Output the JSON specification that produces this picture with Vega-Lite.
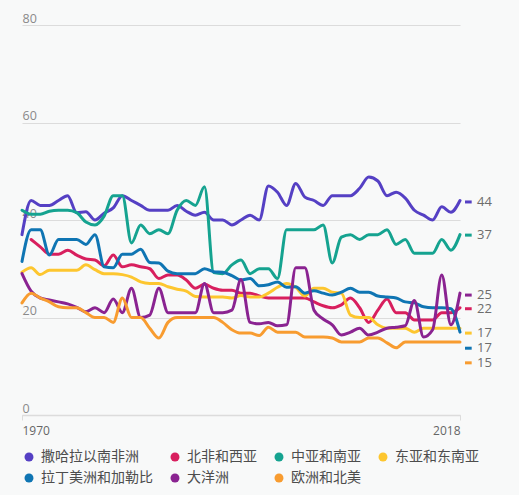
{
  "$schema": "https://vega.github.io/schema/vega-lite/v6.json",
  "width": 438,
  "height": 390,
  "autosize": "none",
  "padding": {"left": 22, "top": 25, "right": 59, "bottom": 80},
  "background": "#f8f9f9",
  "config": {"view": {"stroke": null}, "font": "Open Sans"},
  "datasets": {
    "series": [
      {"region":"撒哈拉以南非洲","year":1970,"value":37},{"region":"撒哈拉以南非洲","year":1971,"value":44},{"region":"撒哈拉以南非洲","year":1972,"value":43},{"region":"撒哈拉以南非洲","year":1973,"value":43},{"region":"撒哈拉以南非洲","year":1974,"value":44},{"region":"撒哈拉以南非洲","year":1975,"value":45},{"region":"撒哈拉以南非洲","year":1976,"value":41.5},{"region":"撒哈拉以南非洲","year":1977,"value":41.7},{"region":"撒哈拉以南非洲","year":1978,"value":40},{"region":"撒哈拉以南非洲","year":1979,"value":41.4},{"region":"撒哈拉以南非洲","year":1980,"value":42.5},{"region":"撒哈拉以南非洲","year":1981,"value":45},{"region":"撒哈拉以南非洲","year":1982,"value":44},{"region":"撒哈拉以南非洲","year":1983,"value":43},{"region":"撒哈拉以南非洲","year":1984,"value":42},{"region":"撒哈拉以南非洲","year":1985,"value":42},{"region":"撒哈拉以南非洲","year":1986,"value":42},{"region":"撒哈拉以南非洲","year":1987,"value":43},{"region":"撒哈拉以南非洲","year":1988,"value":41.8},{"region":"撒哈拉以南非洲","year":1989,"value":41},{"region":"撒哈拉以南非洲","year":1990,"value":41.6},{"region":"撒哈拉以南非洲","year":1991,"value":40},{"region":"撒哈拉以南非洲","year":1992,"value":40},{"region":"撒哈拉以南非洲","year":1993,"value":39},{"region":"撒哈拉以南非洲","year":1994,"value":40},{"region":"撒哈拉以南非洲","year":1995,"value":41},{"region":"撒哈拉以南非洲","year":1996,"value":40},{"region":"撒哈拉以南非洲","year":1997,"value":47},{"region":"撒哈拉以南非洲","year":1998,"value":45.7},{"region":"撒哈拉以南非洲","year":1999,"value":43},{"region":"撒哈拉以南非洲","year":2000,"value":47.5},{"region":"撒哈拉以南非洲","year":2001,"value":44.7},{"region":"撒哈拉以南非洲","year":2002,"value":44},{"region":"撒哈拉以南非洲","year":2003,"value":43},{"region":"撒哈拉以南非洲","year":2004,"value":45},{"region":"撒哈拉以南非洲","year":2005,"value":45},{"region":"撒哈拉以南非洲","year":2006,"value":45},{"region":"撒哈拉以南非洲","year":2007,"value":46.5},{"region":"撒哈拉以南非洲","year":2008,"value":48.8},{"region":"撒哈拉以南非洲","year":2009,"value":48},{"region":"撒哈拉以南非洲","year":2010,"value":45},{"region":"撒哈拉以南非洲","year":2011,"value":45.7},{"region":"撒哈拉以南非洲","year":2012,"value":44.5},{"region":"撒哈拉以南非洲","year":2013,"value":42},{"region":"撒哈拉以南非洲","year":2014,"value":41},{"region":"撒哈拉以南非洲","year":2015,"value":40},{"region":"撒哈拉以南非洲","year":2016,"value":42.7},{"region":"撒哈拉以南非洲","year":2017,"value":41.6},{"region":"撒哈拉以南非洲","year":2018,"value":44},

      {"region":"北非和西亚","year":1971,"value":36},{"region":"北非和西亚","year":1972,"value":34.5},{"region":"北非和西亚","year":1973,"value":33},{"region":"北非和西亚","year":1974,"value":33},{"region":"北非和西亚","year":1975,"value":33.8},{"region":"北非和西亚","year":1976,"value":32.8},{"region":"北非和西亚","year":1977,"value":32},{"region":"北非和西亚","year":1978,"value":31.8},{"region":"北非和西亚","year":1979,"value":30.6},{"region":"北非和西亚","year":1980,"value":32.8},{"region":"北非和西亚","year":1981,"value":30.4},{"region":"北非和西亚","year":1982,"value":30.8},{"region":"北非和西亚","year":1983,"value":30.4},{"region":"北非和西亚","year":1984,"value":30},{"region":"北非和西亚","year":1985,"value":28},{"region":"北非和西亚","year":1986,"value":28.7},{"region":"北非和西亚","year":1987,"value":28.7},{"region":"北非和西亚","year":1988,"value":27.7},{"region":"北非和西亚","year":1989,"value":26},{"region":"北非和西亚","year":1990,"value":26.8},{"region":"北非和西亚","year":1991,"value":26},{"region":"北非和西亚","year":1992,"value":25.6},{"region":"北非和西亚","year":1993,"value":25.6},{"region":"北非和西亚","year":1994,"value":25},{"region":"北非和西亚","year":1995,"value":25},{"region":"北非和西亚","year":1996,"value":24.4},{"region":"北非和西亚","year":1997,"value":24},{"region":"北非和西亚","year":1998,"value":24},{"region":"北非和西亚","year":1999,"value":24},{"region":"北非和西亚","year":2000,"value":24},{"region":"北非和西亚","year":2001,"value":24},{"region":"北非和西亚","year":2002,"value":23.2},{"region":"北非和西亚","year":2003,"value":22.4},{"region":"北非和西亚","year":2004,"value":22},{"region":"北非和西亚","year":2005,"value":22.6},{"region":"北非和西亚","year":2006,"value":24},{"region":"北非和西亚","year":2007,"value":22},{"region":"北非和西亚","year":2008,"value":19},{"region":"北非和西亚","year":2009,"value":21.5},{"region":"北非和西亚","year":2010,"value":23.8},{"region":"北非和西亚","year":2011,"value":21},{"region":"北非和西亚","year":2012,"value":21},{"region":"北非和西亚","year":2013,"value":19.5},{"region":"北非和西亚","year":2014,"value":19.5},{"region":"北非和西亚","year":2015,"value":19.5},{"region":"北非和西亚","year":2016,"value":21},{"region":"北非和西亚","year":2017,"value":21},{"region":"北非和西亚","year":2018,"value":22},

      {"region":"中亚和南亚","year":1970,"value":42},{"region":"中亚和南亚","year":1971,"value":41.2},{"region":"中亚和南亚","year":1972,"value":41.2},{"region":"中亚和南亚","year":1973,"value":41.8},{"region":"中亚和南亚","year":1974,"value":42},{"region":"中亚和南亚","year":1975,"value":42},{"region":"中亚和南亚","year":1976,"value":41.5},{"region":"中亚和南亚","year":1977,"value":39.6},{"region":"中亚和南亚","year":1978,"value":39},{"region":"中亚和南亚","year":1979,"value":40.8},{"region":"中亚和南亚","year":1980,"value":45},{"region":"中亚和南亚","year":1981,"value":45},{"region":"中亚和南亚","year":1982,"value":35.3},{"region":"中亚和南亚","year":1983,"value":39},{"region":"中亚和南亚","year":1984,"value":37.2},{"region":"中亚和南亚","year":1985,"value":38},{"region":"中亚和南亚","year":1986,"value":37.2},{"region":"中亚和南亚","year":1987,"value":42},{"region":"中亚和南亚","year":1988,"value":44},{"region":"中亚和南亚","year":1989,"value":43},{"region":"中亚和南亚","year":1990,"value":46.8},{"region":"中亚和南亚","year":1991,"value":29.2},{"region":"中亚和南亚","year":1992,"value":29},{"region":"中亚和南亚","year":1993,"value":30.8},{"region":"中亚和南亚","year":1994,"value":31.8},{"region":"中亚和南亚","year":1995,"value":29},{"region":"中亚和南亚","year":1996,"value":30},{"region":"中亚和南亚","year":1997,"value":30},{"region":"中亚和南亚","year":1998,"value":28},{"region":"中亚和南亚","year":1999,"value":38},{"region":"中亚和南亚","year":2000,"value":38},{"region":"中亚和南亚","year":2001,"value":38},{"region":"中亚和南亚","year":2002,"value":38},{"region":"中亚和南亚","year":2003,"value":39},{"region":"中亚和南亚","year":2004,"value":31.2},{"region":"中亚和南亚","year":2005,"value":36.5},{"region":"中亚和南亚","year":2006,"value":37},{"region":"中亚和南亚","year":2007,"value":36},{"region":"中亚和南亚","year":2008,"value":37},{"region":"中亚和南亚","year":2009,"value":37},{"region":"中亚和南亚","year":2010,"value":38},{"region":"中亚和南亚","year":2011,"value":35},{"region":"中亚和南亚","year":2012,"value":36},{"region":"中亚和南亚","year":2013,"value":33.2},{"region":"中亚和南亚","year":2014,"value":33.2},{"region":"中亚和南亚","year":2015,"value":33.2},{"region":"中亚和南亚","year":2016,"value":36},{"region":"中亚和南亚","year":2017,"value":33.8},{"region":"中亚和南亚","year":2018,"value":37},

      {"region":"东亚和东南亚","year":1970,"value":29.3},{"region":"东亚和东南亚","year":1971,"value":30.2},{"region":"东亚和东南亚","year":1972,"value":28.8},{"region":"东亚和东南亚","year":1973,"value":29.7},{"region":"东亚和东南亚","year":1974,"value":29.7},{"region":"东亚和东南亚","year":1975,"value":29.7},{"region":"东亚和东南亚","year":1976,"value":29.7},{"region":"东亚和东南亚","year":1977,"value":30.8},{"region":"东亚和东南亚","year":1978,"value":29.8},{"region":"东亚和东南亚","year":1979,"value":29},{"region":"东亚和东南亚","year":1980,"value":29},{"region":"东亚和东南亚","year":1981,"value":28.8},{"region":"东亚和东南亚","year":1982,"value":28.3},{"region":"东亚和东南亚","year":1983,"value":27.3},{"region":"东亚和东南亚","year":1984,"value":27},{"region":"东亚和东南亚","year":1985,"value":27},{"region":"东亚和东南亚","year":1986,"value":26.3},{"region":"东亚和东南亚","year":1987,"value":25.8},{"region":"东亚和东南亚","year":1988,"value":25.4},{"region":"东亚和东南亚","year":1989,"value":24.3},{"region":"东亚和东南亚","year":1990,"value":24.2},{"region":"东亚和东南亚","year":1991,"value":24.2},{"region":"东亚和东南亚","year":1992,"value":24.2},{"region":"东亚和东南亚","year":1993,"value":24},{"region":"东亚和东南亚","year":1994,"value":24.5},{"region":"东亚和东南亚","year":1995,"value":24.2},{"region":"东亚和东南亚","year":1996,"value":24.2},{"region":"东亚和东南亚","year":1997,"value":25},{"region":"东亚和东南亚","year":1998,"value":26.2},{"region":"东亚和东南亚","year":1999,"value":27},{"region":"东亚和东南亚","year":2000,"value":26.2},{"region":"东亚和东南亚","year":2001,"value":24.4},{"region":"东亚和东南亚","year":2002,"value":26},{"region":"东亚和东南亚","year":2003,"value":26},{"region":"东亚和东南亚","year":2004,"value":25.2},{"region":"东亚和东南亚","year":2005,"value":25},{"region":"东亚和东南亚","year":2006,"value":20.5},{"region":"东亚和东南亚","year":2007,"value":20},{"region":"东亚和东南亚","year":2008,"value":20},{"region":"东亚和东南亚","year":2009,"value":18.5},{"region":"东亚和东南亚","year":2010,"value":17.8},{"region":"东亚和东南亚","year":2011,"value":17.8},{"region":"东亚和东南亚","year":2012,"value":17.8},{"region":"东亚和东南亚","year":2013,"value":17},{"region":"东亚和东南亚","year":2014,"value":17.8},{"region":"东亚和东南亚","year":2015,"value":17.8},{"region":"东亚和东南亚","year":2016,"value":17.8},{"region":"东亚和东南亚","year":2017,"value":17.8},{"region":"东亚和东南亚","year":2018,"value":17.8},

      {"region":"拉丁美洲和加勒比","year":1970,"value":31.5},{"region":"拉丁美洲和加勒比","year":1971,"value":38},{"region":"拉丁美洲和加勒比","year":1972,"value":38},{"region":"拉丁美洲和加勒比","year":1973,"value":32.8},{"region":"拉丁美洲和加勒比","year":1974,"value":36},{"region":"拉丁美洲和加勒比","year":1975,"value":36},{"region":"拉丁美洲和加勒比","year":1976,"value":36},{"region":"拉丁美洲和加勒比","year":1977,"value":35},{"region":"拉丁美洲和加勒比","year":1978,"value":37},{"region":"拉丁美洲和加勒比","year":1979,"value":30.4},{"region":"拉丁美洲和加勒比","year":1980,"value":30.2},{"region":"拉丁美洲和加勒比","year":1981,"value":33},{"region":"拉丁美洲和加勒比","year":1982,"value":33},{"region":"拉丁美洲和加勒比","year":1983,"value":34},{"region":"拉丁美洲和加勒比","year":1984,"value":31.3},{"region":"拉丁美洲和加勒比","year":1985,"value":31.2},{"region":"拉丁美洲和加勒比","year":1986,"value":29.5},{"region":"拉丁美洲和加勒比","year":1987,"value":29},{"region":"拉丁美洲和加勒比","year":1988,"value":29},{"region":"拉丁美洲和加勒比","year":1989,"value":29},{"region":"拉丁美洲和加勒比","year":1990,"value":30},{"region":"拉丁美洲和加勒比","year":1991,"value":29.4},{"region":"拉丁美洲和加勒比","year":1992,"value":29.3},{"region":"拉丁美洲和加勒比","year":1993,"value":28.6},{"region":"拉丁美洲和加勒比","year":1994,"value":27.7},{"region":"拉丁美洲和加勒比","year":1995,"value":28},{"region":"拉丁美洲和加勒比","year":1996,"value":26.5},{"region":"拉丁美洲和加勒比","year":1997,"value":26.7},{"region":"拉丁美洲和加勒比","year":1998,"value":27.3},{"region":"拉丁美洲和加勒比","year":1999,"value":26.2},{"region":"拉丁美洲和加勒比","year":2000,"value":26.3},{"region":"拉丁美洲和加勒比","year":2001,"value":25},{"region":"拉丁美洲和加勒比","year":2002,"value":25.5},{"region":"拉丁美洲和加勒比","year":2003,"value":25},{"region":"拉丁美洲和加勒比","year":2004,"value":24.6},{"region":"拉丁美洲和加勒比","year":2005,"value":25.2},{"region":"拉丁美洲和加勒比","year":2006,"value":26},{"region":"拉丁美洲和加勒比","year":2007,"value":25.2},{"region":"拉丁美洲和加勒比","year":2008,"value":25.2},{"region":"拉丁美洲和加勒比","year":2009,"value":24.4},{"region":"拉丁美洲和加勒比","year":2010,"value":24.2},{"region":"拉丁美洲和加勒比","year":2011,"value":24},{"region":"拉丁美洲和加勒比","year":2012,"value":23.2},{"region":"拉丁美洲和加勒比","year":2013,"value":23},{"region":"拉丁美洲和加勒比","year":2014,"value":22.2},{"region":"拉丁美洲和加勒比","year":2015,"value":22},{"region":"拉丁美洲和加勒比","year":2016,"value":22},{"region":"拉丁美洲和加勒比","year":2017,"value":21.8},{"region":"拉丁美洲和加勒比","year":2018,"value":17},

      {"region":"大洋洲","year":1970,"value":29},{"region":"大洋洲","year":1971,"value":25.4},{"region":"大洋洲","year":1972,"value":24},{"region":"大洋洲","year":1973,"value":23.6},{"region":"大洋洲","year":1974,"value":23.2},{"region":"大洋洲","year":1975,"value":22.8},{"region":"大洋洲","year":1976,"value":22.1},{"region":"大洋洲","year":1977,"value":21.2},{"region":"大洋洲","year":1978,"value":22},{"region":"大洋洲","year":1979,"value":21},{"region":"大洋洲","year":1980,"value":23.8},{"region":"大洋洲","year":1981,"value":21},{"region":"大洋洲","year":1982,"value":26},{"region":"大洋洲","year":1983,"value":20},{"region":"大洋洲","year":1984,"value":20.5},{"region":"大洋洲","year":1985,"value":26},{"region":"大洋洲","year":1986,"value":21},{"region":"大洋洲","year":1987,"value":21},{"region":"大洋洲","year":1988,"value":21},{"region":"大洋洲","year":1989,"value":21},{"region":"大洋洲","year":1990,"value":27},{"region":"大洋洲","year":1991,"value":21},{"region":"大洋洲","year":1992,"value":21},{"region":"大洋洲","year":1993,"value":21.5},{"region":"大洋洲","year":1994,"value":27.8},{"region":"大洋洲","year":1995,"value":19},{"region":"大洋洲","year":1996,"value":18.7},{"region":"大洋洲","year":1997,"value":19},{"region":"大洋洲","year":1998,"value":18.3},{"region":"大洋洲","year":1999,"value":18.5},{"region":"大洋洲","year":2000,"value":30.2},{"region":"大洋洲","year":2001,"value":30.2},{"region":"大洋洲","year":2002,"value":21.5},{"region":"大洋洲","year":2003,"value":19.7},{"region":"大洋洲","year":2004,"value":18.5},{"region":"大洋洲","year":2005,"value":16.4},{"region":"大洋洲","year":2006,"value":17},{"region":"大洋洲","year":2007,"value":17.8},{"region":"大洋洲","year":2008,"value":16.4},{"region":"大洋洲","year":2009,"value":17},{"region":"大洋洲","year":2010,"value":17.8},{"region":"大洋洲","year":2011,"value":18},{"region":"大洋洲","year":2012,"value":18.3},{"region":"大洋洲","year":2013,"value":23.5},{"region":"大洋洲","year":2014,"value":16},{"region":"大洋洲","year":2015,"value":17.5},{"region":"大洋洲","year":2016,"value":28.7},{"region":"大洋洲","year":2017,"value":18.5},{"region":"大洋洲","year":2018,"value":25},

      {"region":"欧洲和北美","year":1970,"value":23},{"region":"欧洲和北美","year":1971,"value":25},{"region":"欧洲和北美","year":1972,"value":24},{"region":"欧洲和北美","year":1973,"value":23.2},{"region":"欧洲和北美","year":1974,"value":22.2},{"region":"欧洲和北美","year":1975,"value":22},{"region":"欧洲和北美","year":1976,"value":22},{"region":"欧洲和北美","year":1977,"value":21},{"region":"欧洲和北美","year":1978,"value":20},{"region":"欧洲和北美","year":1979,"value":20},{"region":"欧洲和北美","year":1980,"value":19},{"region":"欧洲和北美","year":1981,"value":24},{"region":"欧洲和北美","year":1982,"value":20},{"region":"欧洲和北美","year":1983,"value":20},{"region":"欧洲和北美","year":1984,"value":17.8},{"region":"欧洲和北美","year":1985,"value":15.8},{"region":"欧洲和北美","year":1986,"value":19},{"region":"欧洲和北美","year":1987,"value":20},{"region":"欧洲和北美","year":1988,"value":20},{"region":"欧洲和北美","year":1989,"value":20},{"region":"欧洲和北美","year":1990,"value":20},{"region":"欧洲和北美","year":1991,"value":20},{"region":"欧洲和北美","year":1992,"value":19},{"region":"欧洲和北美","year":1993,"value":17.5},{"region":"欧洲和北美","year":1994,"value":16.8},{"region":"欧洲和北美","year":1995,"value":16.8},{"region":"欧洲和北美","year":1996,"value":16.3},{"region":"欧洲和北美","year":1997,"value":18},{"region":"欧洲和北美","year":1998,"value":17},{"region":"欧洲和北美","year":1999,"value":17},{"region":"欧洲和北美","year":2000,"value":17},{"region":"欧洲和北美","year":2001,"value":16},{"region":"欧洲和北美","year":2002,"value":16},{"region":"欧洲和北美","year":2003,"value":16},{"region":"欧洲和北美","year":2004,"value":15.8},{"region":"欧洲和北美","year":2005,"value":15},{"region":"欧洲和北美","year":2006,"value":15},{"region":"欧洲和北美","year":2007,"value":15},{"region":"欧洲和北美","year":2008,"value":15.8},{"region":"欧洲和北美","year":2009,"value":15.8},{"region":"欧洲和北美","year":2010,"value":14.8},{"region":"欧洲和北美","year":2011,"value":13.8},{"region":"欧洲和北美","year":2012,"value":15},{"region":"欧洲和北美","year":2013,"value":15},{"region":"欧洲和北美","year":2014,"value":15},{"region":"欧洲和北美","year":2015,"value":15},{"region":"欧洲和北美","year":2016,"value":15},{"region":"欧洲和北美","year":2017,"value":15},{"region":"欧洲和北美","year":2018,"value":15}
    ],
    "labels": [
      {"region":"撒哈拉以南非洲","label":"44","labelValue":43.7},
      {"region":"中亚和南亚","label":"37","labelValue":36.9},
      {"region":"大洋洲","label":"25","labelValue":24.6},
      {"region":"北非和西亚","label":"22","labelValue":21.8},
      {"region":"东亚和东南亚","label":"17","labelValue":16.8},
      {"region":"拉丁美洲和加勒比","label":"17","labelValue":13.7},
      {"region":"欧洲和北美","label":"15","labelValue":10.7}
    ]
  },
  "layer": [
    {
      "data": {"name": "series"},
      "mark": {"type": "line", "interpolate": "monotone", "strokeWidth": 3, "strokeCap": "round", "strokeJoin": "round"},
      "encoding": {
        "x": {"field": "year", "type": "quantitative",
          "scale": {"domain": [1970, 2018], "nice": false, "zero": false},
          "axis": {"title": null, "values": [1970, 2018], "format": "d", "grid": false,
            "domainColor": "#dcdcdc", "domainWidth": 1.5, "tickColor": "#dcdcdc", "tickSize": 5,
            "labelFlush": true, "labelColor": "#666666", "labelFontSize": 12, "labelPadding": 5, "labelFont": "Open Sans"}},
        "y": {"field": "value", "type": "quantitative",
          "scale": {"domain": [0, 80], "nice": false},
          "axis": {"title": null, "values": [0, 20, 40, 60, 80], "grid": true, "gridColor": "#dcdcdc", "gridWidth": 1.2,
            "domain": false, "ticks": false, "labelAlign": "left", "labelBaseline": "bottom", "labelPadding": 0,
            "labelOffset": 0, "labelColor": "#8a8a8a", "labelFontSize": 12.5, "labelFont": "Open Sans"}},
        "color": {"field": "region", "type": "nominal",
          "scale": {"domain": ["撒哈拉以南非洲", "北非和西亚", "中亚和南亚", "东亚和东南亚", "拉丁美洲和加勒比", "大洋洲", "欧洲和北美"],
            "range": ["#5540c4", "#d81f5e", "#15a390", "#fdc62f", "#0f75b3", "#8a2391", "#f89c30"]},
          "legend": {"title": null, "orient": "none", "legendX": 0, "legendY": 425, "direction": "horizontal",
            "columns": 4, "gridAlign": "none", "columnPadding": 15, "rowPadding": 7,
            "symbolType": "circle", "symbolSize": 80, "symbolStrokeWidth": 0, "labelOffset": 5,
            "labelFont": "Noto Sans CJK SC", "labelFontSize": 14, "labelColor": "#4d4d4d", "labelLimit": 300,
            "encode": {"symbols": {"update": {"fill": {"scale": "color", "field": "value"}, "opacity": {"value": 1}}}}}}
      }
    },
    {
      "data": {"name": "labels"},
      "mark": {"type": "rule", "strokeWidth": 3},
      "encoding": {
        "x": {"datum": 2018.55, "type": "quantitative"},
        "x2": {"datum": 2019.28},
        "y": {"field": "labelValue", "type": "quantitative"},
        "color": {"field": "region", "type": "nominal", "legend": null}
      }
    },
    {
      "data": {"name": "labels"},
      "mark": {"type": "text", "align": "left", "baseline": "middle", "dx": 17, "fontSize": 13, "color": "#6d6d6d", "font": "Open Sans"},
      "encoding": {
        "x": {"datum": 2018, "type": "quantitative"},
        "y": {"field": "labelValue", "type": "quantitative"},
        "text": {"field": "label"}
      }
    }
  ]
}
